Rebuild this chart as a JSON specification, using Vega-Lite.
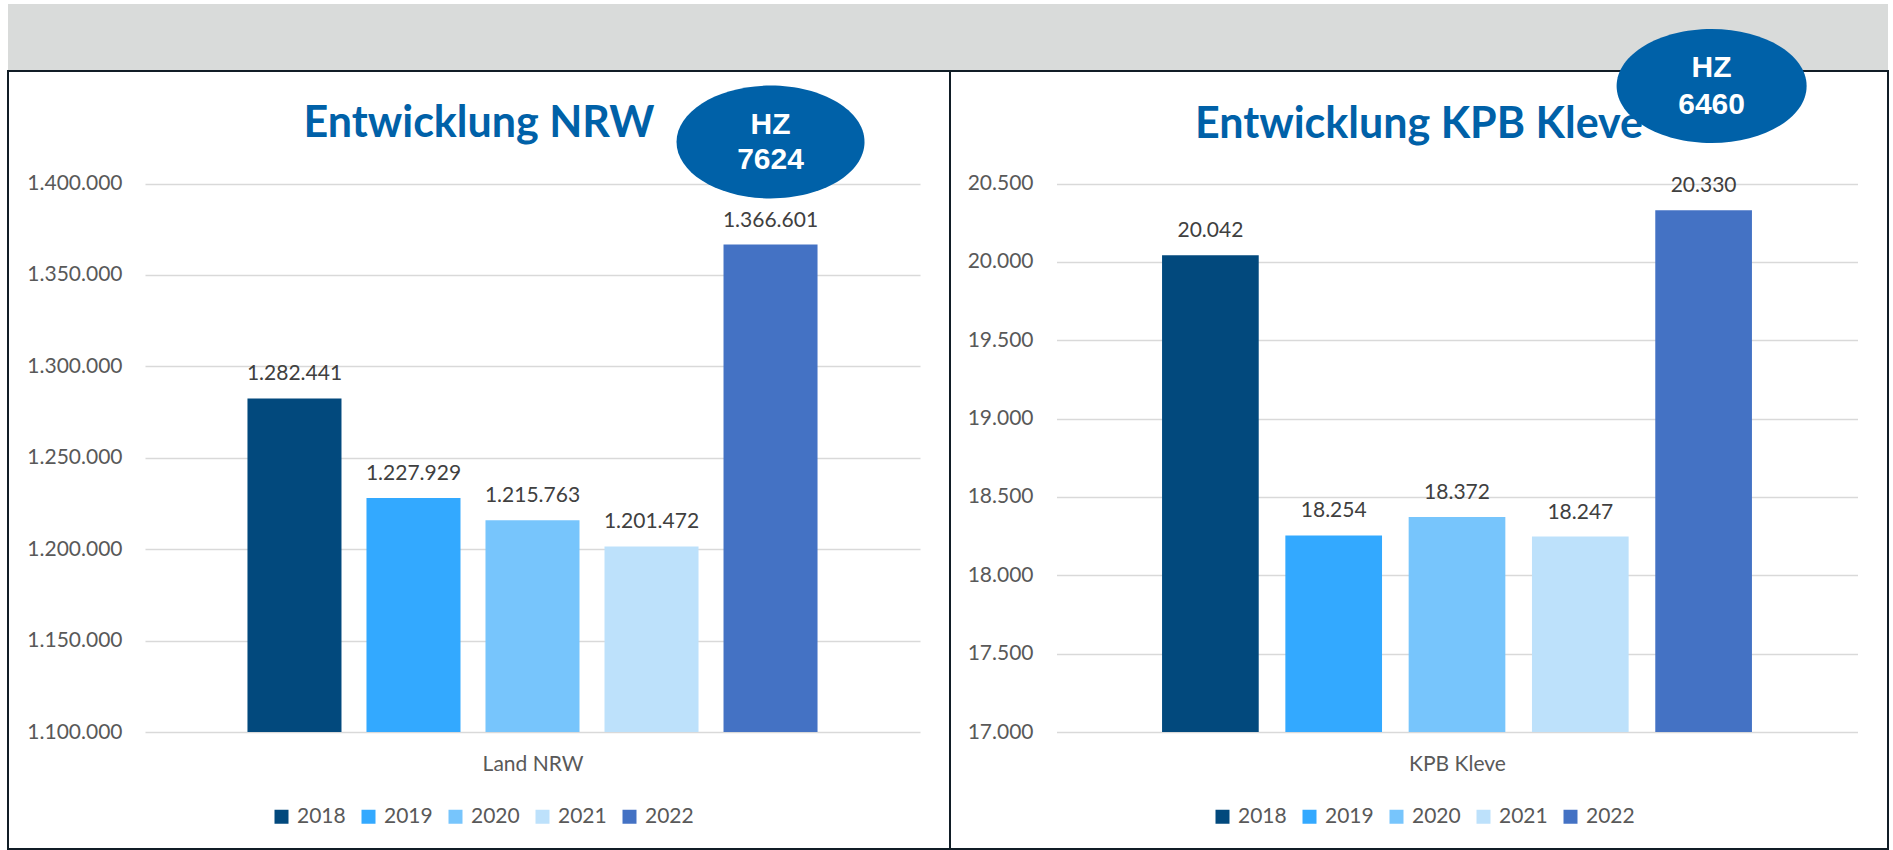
{
  "$schema": "https://vega.github.io/schema/vega-lite/v6.json",
  "padding": {"left": 7, "top": 4, "right": 6, "bottom": 0},
  "background": "white",
  "bounds": "flush",
  "spacing": 0,
  "config": {
    "locale": {"number": {"decimal": ",", "thousands": ".", "grouping": [3], "currency": ["", " €"]}},
    "font": "Lato",
    "view": {"stroke": "#111d26", "strokeWidth": 2},
    "axis": {
      "labelFont": "Lato", "labelFontSize": 21, "labelColor": "#595959",
      "titleFont": "Lato", "titleFontSize": 21, "titleColor": "#595959", "titleFontWeight": "normal",
      "gridColor": "#D9D9D9", "gridWidth": 1.5, "domain": false, "ticks": false, "tickSize": 0, "labelPadding": 0
    },
    "legend": {
      "orient": "none", "direction": "horizontal", "symbolType": "square", "symbolSize": 196,
      "symbolStrokeWidth": 0, "labelFont": "Lato", "labelFontSize": 21, "labelColor": "#595959",
      "columnPadding": 12, "labelOffset": 5, "padding": 0, "title": null
    },
    "title": {"font": "Lato", "fontSize": 43, "fontWeight": "bold", "color": "#0061A8", "anchor": "middle", "frame": "group"}
  },
  "datasets": {
    "nrw": [
      {"jahr": "2018", "faelle": 1282441},
      {"jahr": "2019", "faelle": 1227929},
      {"jahr": "2020", "faelle": 1215763},
      {"jahr": "2021", "faelle": 1201472},
      {"jahr": "2022", "faelle": 1366601}
    ],
    "kleve": [
      {"jahr": "2018", "faelle": 20042},
      {"jahr": "2019", "faelle": 18254},
      {"jahr": "2020", "faelle": 18372},
      {"jahr": "2021", "faelle": 18247},
      {"jahr": "2022", "faelle": 20330}
    ],
    "hzNRW": [{"jahr": "2022", "hz": 7624}],
    "hzKleve": [{"jahr": "2022", "hz": 6460}]
  },
  "vconcat": [
    {
      "width": 1880, "height": 67,
      "view": {"stroke": null, "fill": "#D9DBDA"},
      "data": {"values": [{}]},
      "mark": {"type": "rect", "color": "#D9DBDA"},
      "encoding": {}
    },
    {
      "spacing": 0,
      "bounds": "flush",
      "hconcat": [
        {
          "width": 942, "height": 778,
          "title": {"text": "Entwicklung NRW", "offset": -75},
          "encoding": {
            "x": {"field": "jahr", "type": "nominal", "sort": null,
              "scale": {"range": [137, 912], "paddingInner": 0.21, "paddingOuter": 0.861},
              "axis": {"title": "Land NRW", "labels": false, "grid": false, "offset": -117, "titlePadding": 21}}
          },
          "layer": [
            {
              "data": {"name": "nrw"},
              "mark": {"type": "bar"},
              "encoding": {
                "y": {"field": "faelle", "type": "quantitative",
                  "scale": {"domain": [1100000, 1400000], "range": [661, 112.5], "zero": false, "nice": false},
                  "axis": {"title": null, "values": [1100000, 1150000, 1200000, 1250000, 1300000, 1350000, 1400000], "format": ",d", "offset": -114}},
                "y2": {"datum": 1100000},
                "color": {"field": "jahr", "type": "nominal",
                  "scale": {"domain": ["2018", "2019", "2020", "2021", "2022"], "range": ["#02497D", "#33A9FF", "#77C5FC", "#BDE1FB", "#4472C4"]},
                  "legend": {"legendX": 263, "legendY": 735}}
              }
            },
            {
              "data": {"name": "nrw"},
              "mark": {"type": "text", "dy": -18, "baseline": "alphabetic", "font": "Lato", "fontSize": 21, "color": "#404040"},
              "encoding": {
                "y": {"field": "faelle", "type": "quantitative"},
                "text": {"field": "faelle", "type": "quantitative", "format": ",d"}
              }
            },
            {
              "data": {"name": "hzNRW"},
              "mark": {"type": "point", "clip": false, "shape": "M-1,0C-1,-0.3314,-0.5523,-0.6,0,-0.6C0.5523,-0.6,1,-0.3314,1,0C1,0.3314,0.5523,0.6,0,0.6C-0.5523,0.6,-1,0.3314,-1,0Z", "size": 35344, "filled": true, "opacity": 1, "strokeWidth": 0},
              "encoding": {"y": {"datum": 1422700, "type": "quantitative"}, "color": {"value": "#0061A8"}}
            },
            {
              "data": {"name": "hzNRW"},
              "mark": {"type": "text", "clip": false, "text": "HZ", "dy": -17, "font": "Liberation Sans", "fontWeight": "bold", "fontSize": 30, "baseline": "middle", "align": "center"},
              "encoding": {"y": {"datum": 1422700, "type": "quantitative"}, "color": {"value": "white"}}
            },
            {
              "data": {"name": "hzNRW"},
              "mark": {"type": "text", "clip": false, "dy": 18, "font": "Liberation Sans", "fontWeight": "bold", "fontSize": 30, "baseline": "middle", "align": "center"},
              "encoding": {"y": {"datum": 1422700, "type": "quantitative"}, "text": {"field": "hz", "type": "quantitative", "format": "d"}, "color": {"value": "white"}}
            }
          ]
        },
        {
          "width": 938, "height": 778,
          "title": {"text": "Entwicklung KPB Kleve", "offset": -118, "zindex": -1},
          "encoding": {
            "x": {"field": "jahr", "type": "nominal", "sort": null,
              "scale": {"range": [106.5, 907.5], "paddingInner": 0.216, "paddingOuter": 0.856},
              "axis": {"title": "KPB Kleve", "labels": false, "grid": false, "offset": -117, "titlePadding": 21}}
          },
          "layer": [
            {
              "data": {"name": "kleve"},
              "mark": {"type": "bar"},
              "encoding": {
                "y": {"field": "faelle", "type": "quantitative",
                  "scale": {"domain": [17000, 20500], "range": [661, 112.5], "zero": false, "nice": false},
                  "axis": {"title": null, "values": [17000, 17500, 18000, 18500, 19000, 19500, 20000, 20500], "format": ",d", "offset": -83}},
                "y2": {"datum": 17000},
                "color": {"field": "jahr", "type": "nominal",
                  "scale": {"domain": ["2018", "2019", "2020", "2021", "2022"], "range": ["#02497D", "#33A9FF", "#77C5FC", "#BDE1FB", "#4472C4"]},
                  "legend": {"legendX": 262, "legendY": 735}}
              }
            },
            {
              "data": {"name": "kleve"},
              "mark": {"type": "text", "dy": -18, "baseline": "alphabetic", "font": "Lato", "fontSize": 21, "color": "#404040"},
              "encoding": {
                "y": {"field": "faelle", "type": "quantitative"},
                "text": {"field": "faelle", "type": "quantitative", "format": ",d"}
              }
            },
            {
              "data": {"name": "hzKleve"},
              "mark": {"type": "point", "clip": false, "shape": "M-1,0C-1,-0.3314,-0.5523,-0.6,0,-0.6C0.5523,-0.6,1,-0.3314,1,0C1,0.3314,0.5523,0.6,0,0.6C-0.5523,0.6,-1,0.3314,-1,0Z", "size": 36100, "filled": true, "opacity": 1, "strokeWidth": 0, "xOffset": 8},
              "encoding": {"y": {"datum": 21122, "type": "quantitative"}, "color": {"value": "#0061A8"}}
            },
            {
              "data": {"name": "hzKleve"},
              "mark": {"type": "text", "clip": false, "text": "HZ", "dy": -18, "xOffset": 8, "font": "Liberation Sans", "fontWeight": "bold", "fontSize": 30, "baseline": "middle", "align": "center"},
              "encoding": {"y": {"datum": 21122, "type": "quantitative"}, "color": {"value": "white"}}
            },
            {
              "data": {"name": "hzKleve"},
              "mark": {"type": "text", "clip": false, "dy": 19, "xOffset": 8, "font": "Liberation Sans", "fontWeight": "bold", "fontSize": 30, "baseline": "middle", "align": "center"},
              "encoding": {"y": {"datum": 21122, "type": "quantitative"}, "text": {"field": "hz", "type": "quantitative", "format": "d"}, "color": {"value": "white"}}
            }
          ]
        }
      ],
      "resolve": {"scale": {"x": "independent", "y": "independent", "color": "independent"}, "legend": {"color": "independent"}}
    }
  ]
}
